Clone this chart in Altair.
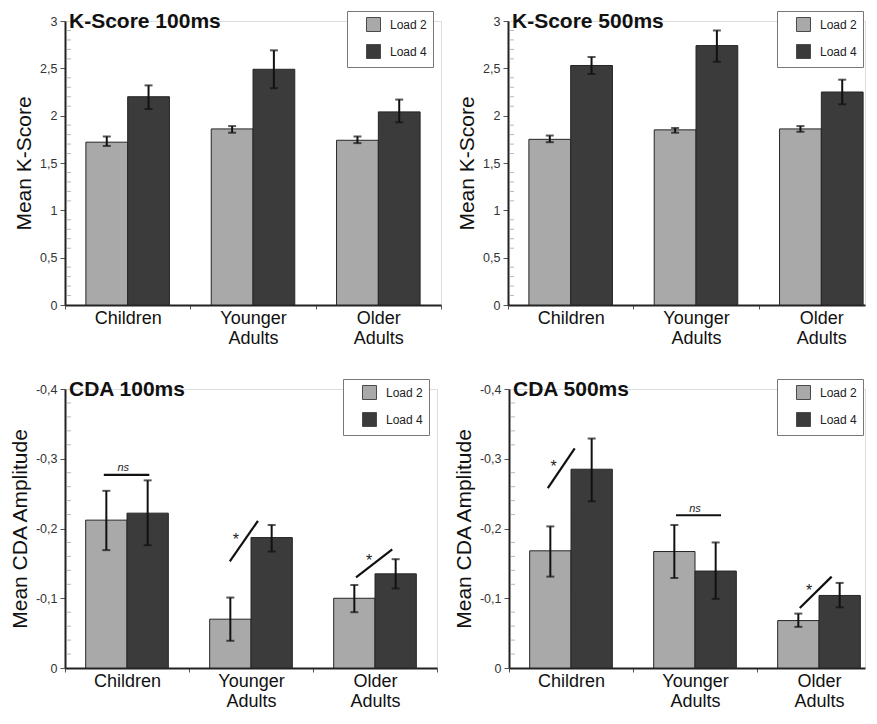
import altair as alt
import pandas as pd

FONT = "Liberation Sans"
MINUS = "\u2212"

groups = ["Children", "Younger Adults", "Older Adults"]
loads = ["Load 2", "Load 4"]
bar_colors = ["#a9a9a9", "#3b3b3b"]

# K-Score 100ms
k100_mean_load2 = [1.72, 1.86, 1.74]
k100_lo_load2 = [1.68, 1.82, 1.71]
k100_hi_load2 = [1.78, 1.89, 1.78]
k100_mean_load4 = [2.20, 2.49, 2.04]
k100_lo_load4 = [2.07, 2.29, 1.93]
k100_hi_load4 = [2.32, 2.69, 2.17]

# K-Score 500ms
k500_mean_load2 = [1.75, 1.85, 1.86]
k500_lo_load2 = [1.72, 1.82, 1.83]
k500_hi_load2 = [1.79, 1.87, 1.89]
k500_mean_load4 = [2.53, 2.74, 2.25]
k500_lo_load4 = [2.44, 2.57, 2.12]
k500_hi_load4 = [2.62, 2.90, 2.38]

# CDA 100ms
c100_mean_load2 = [-0.212, -0.070, -0.100]
c100_lo_load2 = [-0.169, -0.039, -0.080]
c100_hi_load2 = [-0.254, -0.101, -0.119]
c100_mean_load4 = [-0.222, -0.187, -0.135]
c100_lo_load4 = [-0.176, -0.167, -0.114]
c100_hi_load4 = [-0.269, -0.205, -0.156]

# CDA 500ms
c500_mean_load2 = [-0.168, -0.167, -0.068]
c500_lo_load2 = [-0.131, -0.129, -0.059]
c500_hi_load2 = [-0.203, -0.205, -0.078]
c500_mean_load4 = [-0.285, -0.139, -0.104]
c500_lo_load4 = [-0.239, -0.099, -0.087]
c500_hi_load4 = [-0.329, -0.180, -0.122]

k_ticks = [0, 0.5, 1, 1.5, 2, 2.5, 3]
k_minor_ticks = [0.1, 0.2, 0.3, 0.4, 0.6, 0.7, 0.8, 0.9, 1.1, 1.2, 1.3, 1.4,
                 1.6, 1.7, 1.8, 1.9, 2.1, 2.2, 2.3, 2.4, 2.6, 2.7, 2.8, 2.9]
cda_ticks = [0, -0.1, -0.2, -0.3, -0.4]
cda_minor_ticks = [-0.02, -0.04, -0.06, -0.08, -0.12, -0.14, -0.16, -0.18,
                   -0.22, -0.24, -0.26, -0.28, -0.32, -0.34, -0.36, -0.38]
x_ticks = [-0.5, 0, 0.5, 1, 1.5, 2, 2.5]

# significance marks: label, group index, line x-offsets, line y values, label x-offset, label y
c100_sig_label = ["ns", "*", "*"]
c100_sig_group = [0, 1, 2]
c100_sig_dx0 = [-0.187, -0.171, -0.153]
c100_sig_dx1 = [0.180, 0.056, 0.139]
c100_sig_y0 = [-0.277, -0.153, -0.130]
c100_sig_y1 = [-0.277, -0.211, -0.170]
c100_sig_tdx = [-0.03, -0.123, -0.048]
c100_sig_ty = [-0.283, -0.190, -0.161]

c500_sig_label = ["*", "ns", "*"]
c500_sig_group = [0, 1, 2]
c500_sig_dx0 = [-0.187, -0.153, -0.155]
c500_sig_dx1 = [0.030, 0.210, 0.102]
c500_sig_y0 = [-0.258, -0.219, -0.086]
c500_sig_y1 = [-0.315, -0.219, -0.131]
c500_sig_tdx = [-0.141, 0.0, -0.08]
c500_sig_ty = [-0.295, -0.224, -0.118]


def x_label_expr():
    parts = []
    for i, g in enumerate(groups):
        words = ",".join("'" + w + "'" for w in g.split(" "))
        parts.append(f"datum.value == {i} ? [{words}] : ")
    return "".join(parts) + "''"


def y_label_expr():
    return f"replace(replace(format(datum.value, '~g'), '.', ','), '{MINUS}', '-')"


def panel(title, m2, lo2, hi2, m4, lo4, hi4, ydomain, yticks, yminor, ytitle,
          width, height, full_width, legend_x, sig=None):
    rows = []
    for j, (load, m, lo, hi) in enumerate([(loads[0], m2, lo2, hi2), (loads[1], m4, lo4, hi4)]):
        for g in range(len(groups)):
            rows.append(dict(group=groups[g], load=load, mean=m[g], lo=lo[g], hi=hi[g],
                             x0=g - 1 / 3 + j / 3, x1=g + j / 3, xc=g - 1 / 6 + j / 3))
    df = pd.DataFrame(rows)
    base = alt.Chart(df)

    # the right-hand panels are cropped at the figure edge, as in the source figure
    xmax = -0.5 + len(groups) * width / full_width
    xscale = alt.Scale(domain=[-0.5, xmax], nice=False, zero=False)
    yscale = alt.Scale(domain=ydomain, nice=False)

    xaxis = alt.Axis(
        values=[v for v in x_ticks if v <= xmax], title=None, grid=False,
        labelExpr=x_label_expr(), labelFont=FONT, labelFontSize=18, labelColor="#111",
        labelLineHeight=20, labelPadding=0, labelFlush=False, labelOverlap=False,
        tickSize=4, tickColor="#555", tickWidth=1,
        tickOpacity={"condition": {"test": "datum.value % 1 !== 0", "value": 1}, "value": 0},
        domainColor="#222", domainWidth=2)
    yaxis = alt.Axis(
        values=yticks, labelExpr=y_label_expr(), title=ytitle, grid=False,
        labelFont=FONT, labelFontSize=12.5, labelColor="#333", labelPadding=3,
        tickSize=5, tickColor="#555", tickWidth=1,
        domainColor="#222", domainWidth=2,
        titleFont=FONT, titleFontSize=21, titleFontWeight="normal", titleColor="#111",
        titlePadding=5)

    def X(f):
        return alt.X(f, scale=xscale, axis=xaxis)

    def Y(f):
        return alt.Y(f, scale=yscale, axis=yaxis)

    bars = base.mark_bar(stroke="#262626", strokeWidth=1).encode(
        x=X("x0:Q"), x2="x1:Q",
        y=Y("mean:Q"), y2=alt.datum(0),
        color=alt.Color("load:N", scale=alt.Scale(domain=loads, range=bar_colors),
                        legend=alt.Legend(
                            title=None, orient="none", legendX=legend_x, legendY=-10,
                            strokeColor="#777", fillColor="white", padding=6,
                            symbolType="square", symbolSize=196, symbolStrokeColor="#4a4a4a",
                            symbolStrokeWidth=1, symbolOffset=13, labelOffset=9,
                            labelFont=FONT, labelFontSize=12, labelColor="#222",
                            rowPadding=8)),
    )
    err = base.mark_rule(color="#111", strokeWidth=2).encode(
        x=X("xc:Q"), y=Y("lo:Q"), y2="hi:Q")
    cap_lo = base.mark_tick(orient="horizontal", color="#111", size=8, thickness=2).encode(
        x=X("xc:Q"), y=Y("lo:Q"))
    cap_hi = base.mark_tick(orient="horizontal", color="#111", size=8, thickness=2).encode(
        x=X("xc:Q"), y=Y("hi:Q"))
    minor = alt.Chart(pd.DataFrame({"v": yminor})).mark_tick(
        orient="horizontal", color="#999", size=5, thickness=1, xOffset=3.5).encode(
        x=alt.X(datum=-0.5, scale=xscale, axis=xaxis), y=Y("v:Q"))
    layers = [bars, err, cap_lo, cap_hi, minor]

    if sig is not None:
        lab, grp, dx0, dx1, y0, y1, tdx, ty = sig
        sdf = pd.DataFrame(dict(
            label=lab,
            sx0=[g + d for g, d in zip(grp, dx0)],
            sx1=[g + d for g, d in zip(grp, dx1)],
            sy0=y0, sy1=y1,
            tx=[g + d for g, d in zip(grp, tdx)],
            ty=ty))
        sbase = alt.Chart(sdf)
        lines = sbase.mark_rule(color="#111", strokeWidth=2.2).encode(
            x=X("sx0:Q"), x2="sx1:Q", y=Y("sy0:Q"), y2="sy1:Q")
        ns = sbase.transform_filter("datum.label == 'ns'").mark_text(
            font=FONT, fontSize=11, fontStyle="italic", color="#222",
            baseline="alphabetic", align="center").encode(
            x=X("tx:Q"), y=Y("ty:Q"), text="label:N")
        star = sbase.transform_filter("datum.label == '*'").mark_text(
            font=FONT, fontSize=16, color="#222", baseline="middle", align="center",
            dy=5).encode(
            x=X("tx:Q"), y=Y("ty:Q"), text="label:N")
        layers += [lines, ns, star]

    return alt.layer(*layers).properties(
        width=width, height=height,
        title=alt.TitleParams(text=title, anchor="start", frame="group", offset=-21, dx=4,
                              font=FONT, fontSize=21, fontWeight="bold", color="#111"),
    )


LEG_W = 88

tl = panel("K-Score 100ms", k100_mean_load2, k100_lo_load2, k100_hi_load2,
           k100_mean_load4, k100_lo_load4, k100_hi_load4,
           [0, 3], k_ticks, k_minor_ticks, "Mean K-Score", 376, 284, 376, 376 - LEG_W - 6)
tr = panel("K-Score 500ms", k500_mean_load2, k500_lo_load2, k500_hi_load2,
           k500_mean_load4, k500_lo_load4, k500_hi_load4,
           [0, 3], k_ticks, k_minor_ticks, "Mean K-Score", 357, 284, 376, 357 - LEG_W)
bl = panel("CDA 100ms", c100_mean_load2, c100_lo_load2, c100_hi_load2,
           c100_mean_load4, c100_lo_load4, c100_hi_load4,
           [0, -0.4], cda_ticks, cda_minor_ticks, "Mean CDA Amplitude", 372, 279, 372,
           372 - LEG_W - 6,
           sig=(c100_sig_label, c100_sig_group, c100_sig_dx0, c100_sig_dx1,
                c100_sig_y0, c100_sig_y1, c100_sig_tdx, c100_sig_ty))
br = panel("CDA 500ms", c500_mean_load2, c500_lo_load2, c500_hi_load2,
           c500_mean_load4, c500_lo_load4, c500_hi_load4,
           [0, -0.4], cda_ticks, cda_minor_ticks, "Mean CDA Amplitude", 356, 279, 372,
           356 - LEG_W,
           sig=(c500_sig_label, c500_sig_group, c500_sig_dx0, c500_sig_dx1,
                c500_sig_y0, c500_sig_y1, c500_sig_tdx, c500_sig_ty))

top = alt.hconcat(tl, tr, spacing=14).resolve_legend(color="independent")
bottom = alt.hconcat(bl, br, spacing=14).resolve_legend(color="independent")

chart = alt.vconcat(top, bottom, spacing=30).resolve_legend(color="independent").properties(
    padding={"left": 0, "top": 2, "right": 0, "bottom": 0}
).configure_view(stroke="transparent").configure(background="white")

chart.save("out.html", embed_options={"renderer": "svg", "actions": False})
